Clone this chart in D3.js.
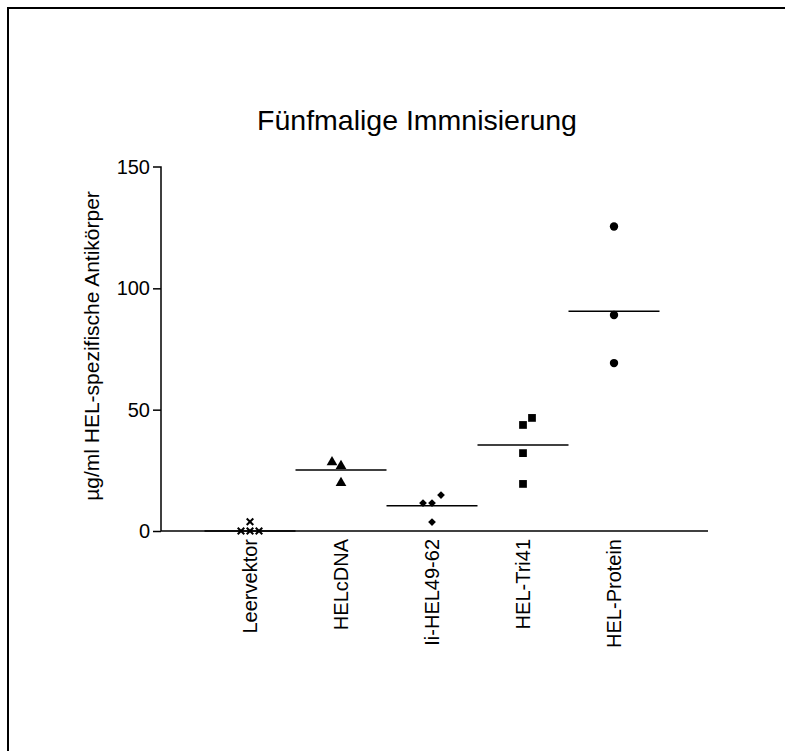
<!DOCTYPE html>
<html>
<head>
<meta charset="utf-8">
<script src="https://cdn.jsdelivr.net/npm/d3@7"></script>
<style>
  body { margin: 0; background: #fff; overflow: hidden; }
  svg { display: block; font-family: "Liberation Sans", Arial, sans-serif; }
</style>
</head>
<body>
<svg id="svg" width="785" height="751"></svg>
<script>
const categories = ['Leervektor', 'HELcDNA', 'Ii-HEL49-62', 'HEL-Tri41', 'HEL-Protein'];
const symbols = ['cross', 'triangle', 'diamond', 'square', 'circle'];
// individual values per group
const leervektor = [0, 0, 0, 3.8];
const helcdna = [28.4, 26.8, 19.8];
const iiHel = [11.5, 11.5, 14.8, 3.7];
const helTri41 = [43.7, 46.6, 32.1, 19.4];
const helProtein = [125.5, 89, 69.2];
const groups = [leervektor, helcdna, iiHel, helTri41, helProtein];
// horizontal offsets of the points (in units of point width)
const jitter = [[-1, 0, 1, 0], [-1, 0, 0], [-1, 0, 1, 0], [0, 1, 0, 0], [0, 0, 0]];
const medians = [0, 25.1, 10.4, 35.4, 90.6];
const yTicks = [0, 50, 100, 150];

const svg = d3.select('#svg');

// outer frame (only top and left visible)
svg.append('path')
  .attr('d', 'M8,760 V8 H800')
  .attr('fill', 'none')
  .attr('stroke', '#000')
  .attr('stroke-width', 2);

const x = d3.scalePoint()
  .domain(categories)
  .range([250, 614]);

const y = d3.scaleLinear()
  .domain([0, 150])
  .range([531, 167]);

const band = 91;

// y axis
const yAxis = svg.append('g')
  .attr('transform', 'translate(161,0)')
  .call(d3.axisLeft(y).tickValues(yTicks).tickSize(8).tickPadding(3));
yAxis.attr('font-size', 20).attr('font-family', '"Liberation Sans", Arial, sans-serif');
yAxis.select('.domain').attr('stroke', '#000').attr('stroke-width', 1.5).attr('d', 'M-8,167H0V531');
yAxis.selectAll('.tick line').attr('stroke', '#000').attr('stroke-width', 1.5);
yAxis.selectAll('.tick text').attr('fill', '#000');
yAxis.selectAll('.tick').filter(d => d === 150).select('line').remove();

// x axis line
svg.append('line')
  .attr('x1', 161).attr('x2', 708)
  .attr('y1', y(0)).attr('y2', y(0))
  .attr('stroke', '#000').attr('stroke-width', 1.5);

// x labels
svg.append('g').selectAll('text')
  .data(categories)
  .enter()
  .append('text')
  .attr('transform', d => 'translate(' + (x(d) + 7) + ',539) rotate(-90)')
  .attr('text-anchor', 'end')
  .attr('font-size', 20)
  .text(d => d);

// median lines
svg.append('g').selectAll('line')
  .data(categories)
  .enter()
  .append('line')
  .attr('x1', d => x(d) - band / 2)
  .attr('x2', d => x(d) + band / 2)
  .attr('y1', (d, i) => y(medians[i]))
  .attr('y2', (d, i) => y(medians[i]))
  .attr('stroke', '#000')
  .attr('stroke-width', 1.5);

// points
const symTypes = {
  cross: d3.symbolTimes,
  triangle: d3.symbolTriangle,
  diamond: d3.symbolSquare,
  square: d3.symbolSquare,
  circle: d3.symbolCircle
};
const sizes = { cross: 30, triangle: 50, diamond: 30, square: 60, circle: 55 };

categories.forEach((c, gi) => {
  const s = symbols[gi];
  svg.append('g').selectAll('path')
    .data(groups[gi])
    .enter()
    .append('path')
    .attr('transform', (d, i) => 'translate(' + (x(c) + jitter[gi][i] * 9) + ',' + y(d) + ')' +
      (s === 'diamond' ? ' rotate(45)' : ''))
    .attr('d', d3.symbol().type(symTypes[s]).size(sizes[s]))
    .attr('fill', s === 'cross' ? 'none' : '#000')
    .attr('stroke', s === 'cross' ? '#000' : 'none')
    .attr('stroke-width', 2);
});

// title
svg.append('text')
  .attr('x', 417).attr('y', 130)
  .attr('text-anchor', 'middle')
  .attr('font-size', 28.5)
  .text('Fünfmalige Immnisierung');

// y label
svg.append('text')
  .attr('transform', 'translate(99,346) rotate(-90)')
  .attr('text-anchor', 'middle')
  .attr('font-size', 21)
  .text('µg/ml HEL-spezifische Antikörper');
</script>
</body>
</html>
